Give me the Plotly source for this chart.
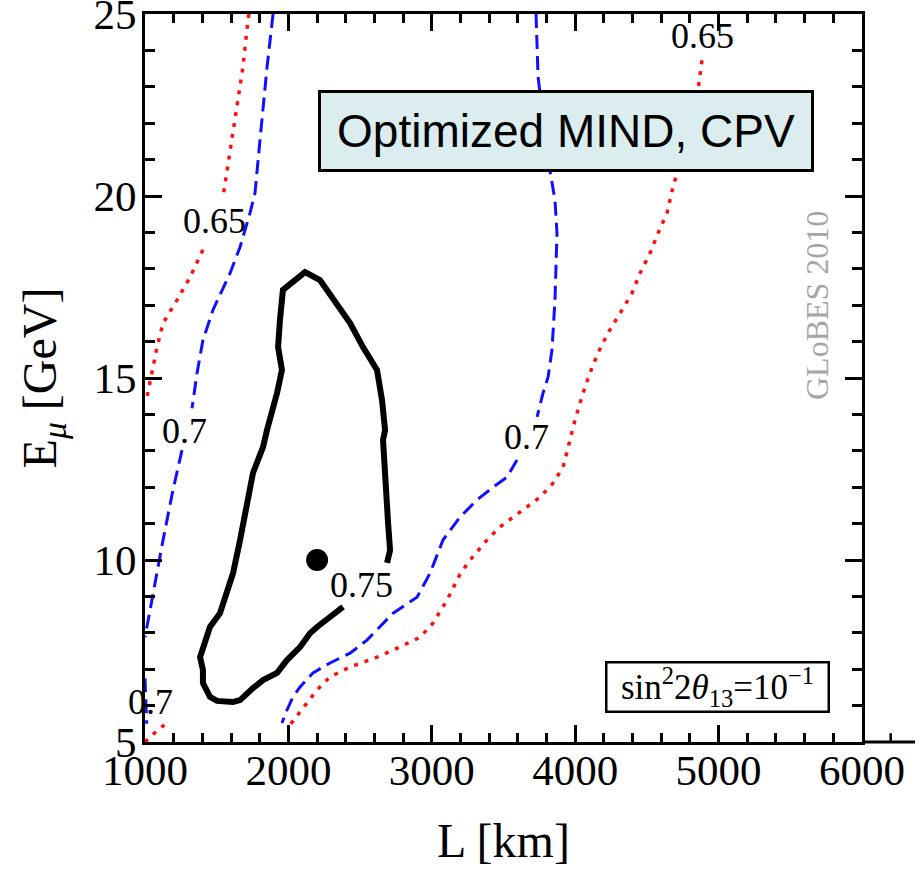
import plotly.graph_objects as go

# ---- data (L in km, E_mu in GeV) ----
# 0.75 contour (solid black), gap at its label
c075_L = [2688, 2709, 2695, 2674, 2660, 2674, 2653, 2618, 2520, 2430, 2311, 2220, 2116,
          1962, 1941, 1928, 1955, 1921, 1851, 1823, 1753, 1711, 1663, 1614, 1572, 1523,
          1453, 1404, 1384, 1404, 1404, 1453, 1502, 1614, 1663, 1753, 1823, 1921, 1990,
          2081, 2151, 2200, 2381]
c075_E = [9.92, 10.27, 11.02, 12.39, 13.30, 13.57, 14.39, 15.22, 15.85, 16.51, 17.22, 17.69, 17.91,
          17.42, 16.59, 15.85, 15.22, 14.59, 13.57, 13.10, 12.39, 11.46, 10.55, 9.64, 9.09, 8.54,
          8.16, 7.61, 7.33, 6.98, 6.62, 6.24, 6.13, 6.10, 6.15, 6.48, 6.70, 6.90, 7.25,
          7.61, 7.99, 8.16, 8.71]

# 0.7 contours (blue dashed)
c070_left_L = [1893, 1851, 1802, 1767, 1732, 1663, 1593, 1474, 1404, 1363, 1328, None,
               1258, 1195, 1126, 1084, 1035, 1000]
c070_left_E = [25.0, 23.54, 21.54, 20.08, 19.53, 18.60, 17.88, 16.87, 16.04, 15.14, 14.17, None,
               13.02, 11.92, 10.55, 9.64, 8.54, 7.88]
c070_corner_L = [1000, 1006, 1012]
c070_corner_E = [6.75, 6.10, 5.50]
c070_right_L = [3727, 3741, 3769, 3811, 3859, 3873, 3859, 3838, 3811, 3776, 3734, None,
                3594, 3525, 3427, 3315, 3197, 3078, 2988, 2897, 2730, 2548, 2430, 2290,
                2172, 2081, 2032, 1990, 1955]
c070_right_E = [25.0, 23.27, 22.36, 20.99, 19.89, 18.98, 17.14, 15.77, 15.03, 14.59, 13.93, None,
                12.75, 12.28, 12.00, 11.65, 11.18, 10.55, 9.64, 8.98, 8.54, 7.80, 7.44, 7.17,
                6.90, 6.51, 6.24, 5.88, 5.52]

# 0.65 contours (red dotted)
c065_left_L = [1725, 1718, 1683, 1649, 1614, 1579, 1544, None,
               1404, 1314, 1223, 1126, 1084, 1049, 1014, 1000]
c065_left_E = [25.0, 24.83, 23.54, 22.64, 21.73, 20.80, 19.97, None,
               18.52, 17.77, 17.14, 16.51, 15.85, 15.14, 14.48, 14.34]
c065_corner_L = [1000, 1080, 1160]
c065_corner_E = [5.0, 5.30, 5.55]
c065_right_L = [4905, None, 4884, 4857, 4822, 4780, 4717, 4682, 4640, 4578, 4522, 4452, 4396,
                4313, 4229, 4159, 4103, 4055, 3999, 3964, 3915, 3845, 3755, 3664, 3566,
                3476, 3385, 3267, 3197, 3106, 3009, 2918, 2778, 2618, 2430, 2290, 2200,
                2130, 2060, 2011]
c065_right_E = [25.0, None, 23.73, 22.91, 21.89, 21.34, 20.71, 20.25, 19.53, 18.98, 18.43, 17.88, 17.33,
                16.78, 16.24, 15.69, 15.14, 14.59, 13.85, 13.30, 12.55, 12.11, 11.73, 11.46, 11.18,
                10.91, 10.55, 10.00, 9.61, 8.90, 8.27, 7.88, 7.61, 7.33, 7.06, 6.79, 6.43,
                6.07, 5.69, 5.47]

# best-fit point
best_L = [2200]
best_E = [10.0]

# contour labels
label_text = ["0.65", "0.7", "0.7", "0.75", "0.7", "0.65"]
label_L = [1488, 1272, 3657, 2513, 1035, 4891]
label_E = [19.31, 13.54, 13.38, 9.31, 6.10, 24.39]

x_ticks = [1000, 2000, 3000, 4000, 5000, 6000]
y_ticks = [5, 10, 15, 20, 25]

SERIF = "Liberation Serif, Times New Roman, serif"
SANS = "Liberation Sans, Arial, sans-serif"

fig = go.Figure()

BLUE = "#1010ff"
RED = "#ff1010"

for xs, ys in [(c065_left_L, c065_left_E), (c065_corner_L, c065_corner_E), (c065_right_L, c065_right_E)]:
    fig.add_trace(go.Scatter(x=xs, y=ys, mode="lines", showlegend=False, hoverinfo="skip",
                             line=dict(color=RED, width=3.5, dash="4px,7px")))
for xs, ys in [(c070_left_L, c070_left_E), (c070_corner_L, c070_corner_E), (c070_right_L, c070_right_E)]:
    fig.add_trace(go.Scatter(x=xs, y=ys, mode="lines", showlegend=False, hoverinfo="skip",
                             line=dict(color=BLUE, width=3, dash="14px,7px")))
fig.add_trace(go.Scatter(x=c075_L, y=c075_E, mode="lines", showlegend=False, hoverinfo="skip",
                         line=dict(color="black", width=6)))
fig.add_trace(go.Scatter(x=best_L, y=best_E, mode="markers", showlegend=False, hoverinfo="skip",
                         marker=dict(color="black", size=22)))

for t, lx, ly in zip(label_text, label_L, label_E):
    fig.add_annotation(x=lx, y=ly, text=t, showarrow=False, xanchor="center", yanchor="middle",
                       font=dict(family=SERIF, size=36, color="black"))

fig.add_annotation(xref="paper", yref="paper", x=0.5865, y=0.839, text="Optimized MIND, CPV",
                   xanchor="center", yanchor="middle",
                   showarrow=False, font=dict(family=SANS, size=46, color="black"),
                   bgcolor="#dcedef", bordercolor="black", borderwidth=3, borderpad=0,
                   width=490, height=76)
fig.add_annotation(xref="paper", yref="paper", x=0.7985, y=0.0755,
                   text="sin<sup>2</sup>2<i>θ</i><sub>13</sub>=10<sup>−1</sup>",
                   xanchor="center", yanchor="middle",
                   showarrow=False, font=dict(family=SERIF, size=35, color="black"),
                   bgcolor="white", bordercolor="black", borderwidth=2.5, borderpad=0,
                   width=220, height=47)
fig.add_annotation(xref="paper", yref="paper", x=0.937, y=0.600, text="GLoBES 2010",
                   xanchor="center", yanchor="middle",
                   textangle=-90, showarrow=False,
                   font=dict(family=SERIF, size=32, color="#a6a6a6"))

# extension of the bottom axis line beyond 6000 with one extra minor tick
fig.add_shape(type="line", xref="paper", yref="paper", x0=1, x1=1.074, y0=0, y1=0,
              line=dict(color="black", width=3))
fig.add_shape(type="line", xref="paper", yref="paper", x0=1.04, x1=1.04, y0=0, y1=0.012,
              line=dict(color="black", width=2.5))

axis_common = dict(showgrid=False, zeroline=False, ticks="inside", mirror="ticks",
                   showline=True, linecolor="black", linewidth=3,
                   tickcolor="black", tickwidth=2.5, ticklen=17,
                   ticklabeloverflow="allow",
                   tickfont=dict(family=SERIF, size=43, color="black"))

fig.update_xaxes(range=[1000, 6000], tickvals=x_ticks, ticktext=[str(v) for v in x_ticks],
                 minor=dict(ticks="inside", ticklen=9, tickwidth=2.5, dtick=200, tickcolor="black"),
                 ticklabelstandoff=-12,
                 title=dict(text="L [km]", font=dict(family=SERIF, size=48, color="black"), standoff=31),
                 **axis_common)
fig.update_yaxes(range=[5, 25], tickvals=y_ticks, ticktext=[str(v) for v in y_ticks],
                 minor=dict(ticks="inside", ticklen=10, tickwidth=2.5, dtick=1, tickcolor="black"),
                 ticklabelstandoff=-3,
                 title=dict(text="E<sub><i>μ</i></sub> [GeV]", font=dict(family=SERIF, size=48, color="black"),
                            standoff=22),
                 **axis_common)

fig.update_layout(width=923, height=873, margin=dict(l=145, r=61, t=14, b=131, autoexpand=False),
                  plot_bgcolor="white", paper_bgcolor="white", showlegend=False)

fig.write_html("out.html", config={"displayModeBar": False},
               post_script="document.body.style.margin='0px';")
